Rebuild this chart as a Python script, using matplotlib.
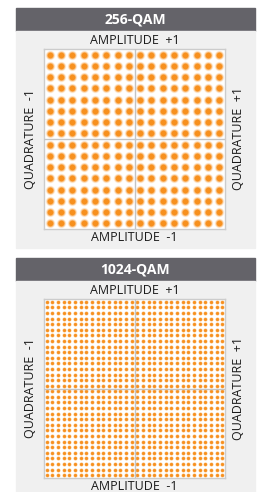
import matplotlib
matplotlib.use('Agg')
import matplotlib.pyplot as plt
from matplotlib.patches import Rectangle

plt.rcParams['font.family'] = ['Open Sans', 'DejaVu Sans']

# constellation levels for each chart
titles = ['256-QAM', '1024-QAM']
levels_256 = [-15, -13, -11, -9, -7, -5, -3, -1, 1, 3, 5, 7, 9, 11, 13, 15]
levels_1024 = [-31, -29, -27, -25, -23, -21, -19, -17, -15, -13, -11, -9, -7, -5, -3, -1,
               1, 3, 5, 7, 9, 11, 13, 15, 17, 19, 21, 23, 25, 27, 29, 31]
top_label = 'AMPLITUDE  +1'
bottom_label = 'AMPLITUDE  -1'
left_label = 'QUADRATURE  -1'
right_label = 'QUADRATURE  +1'

W, H = 261, 492
fig = plt.figure(figsize=(W / 100, H / 100), dpi=100)
fig.patch.set_facecolor('white')

def px(x, y, w, h):
    # pixel box (top-left origin) -> figure fraction
    return [x / W, (H - y - h) / H, w / W, h / H]

header_col = '#646369'
body_col = '#f0f0f0'
dot_col = '#f7901e'

# glow layers as (diameter in px, alpha)
glow_256 = [(9.5, 0.12), (8.3, 0.25), (7.0, 0.45), (5.6, 1.0)]
glow_1024 = [(4.3, 0.25), (3.5, 0.6), (2.9, 1.0)]

panels = [
    # header top, body top, body bottom, box top, box bottom
    (8, 31, 248, 49, 229, levels_256, glow_256),
    (258, 281, 492, 299, 478, levels_1024, glow_1024),
]

for title, (ht, bt, bb, yt, yb, levels, glow) in zip(titles, panels):
    fig.patches.append(Rectangle((16 / W, 1 - bt / H), 239 / W, 23 / H,
                                 transform=fig.transFigure, color=header_col, zorder=-2))
    fig.patches.append(Rectangle((16 / W, 1 - bb / H), 239 / W, (bb - bt) / H,
                                 transform=fig.transFigure, color=body_col, zorder=-2))
    fig.text(135.5 / W, 1 - (ht + 11.5) / H, title, color='white', fontsize=10,
             fontweight='bold', ha='center', va='center')

    ax = fig.add_axes(px(44, yt, 181, yb - yt))
    ax.set_facecolor('white')
    n = len(levels)
    xs = [i for i in levels for q in levels]
    ys = [q for i in levels for q in levels]
    # soft glowing dots: stacked layers
    for d, alpha in glow:
        ax.scatter(xs, ys, s=(d * 0.72) ** 2, color=dot_col, alpha=alpha, linewidths=0, zorder=2)
    ax.set_xlim(-n, n)
    ax.set_ylim(-n, n)
    ax.axhline(0, color='#c4c4c4', lw=1, zorder=3)
    ax.axvline(0, color='#c4c4c4', lw=1, zorder=3)
    ax.set_xticks([])
    ax.set_yticks([])
    for sp in ax.spines.values():
        sp.set_color('#cccccc')
        sp.set_linewidth(1)

    mid = (yt + yb) / 2
    fig.text(134.5 / W, 1 - (yt - 9) / H, top_label, fontsize=9, ha='center', va='center', color='#1a1a1a')
    fig.text(134.5 / W, 1 - (yb + 8.5) / H, bottom_label, fontsize=9, ha='center', va='center', color='#1a1a1a')
    fig.text(31 / W, 1 - mid / H, left_label, fontsize=9, ha='center', va='center', rotation=90, color='#1a1a1a')
    fig.text(239 / W, 1 - mid / H, right_label, fontsize=9, ha='center', va='center', rotation=90, color='#1a1a1a')

fig.savefig('out.png', dpi=100)
